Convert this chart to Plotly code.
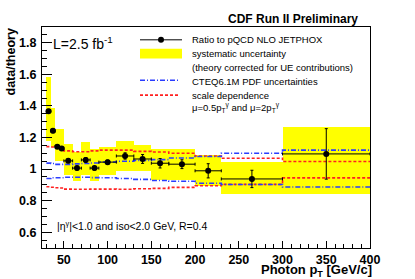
import plotly.graph_objects as go

# ---- data ----
bin_edges = [30, 35, 40, 45, 50, 60, 70, 80, 90, 110, 130, 150, 170, 200, 230, 300, 400]
ratio = [1.367, 1.242, 1.142, 1.131, 1.052, 1.006, 1.058, 1.006, 1.044, 1.083,
         1.064, 1.037, 1.031, 0.989, 0.9375, 1.096]
stat_err = [0.012, 0.012, 0.010, 0.010, 0.012, 0.012, 0.015, 0.012, 0.013, 0.020,
            0.028, 0.030, 0.028, 0.045, 0.055, 0.160]
sys_lo = [1.175, 1.142, 1.05, 1.05, 0.964, 0.923, 0.96, 0.925, 0.96, 0.985,
          0.985, 0.93, 0.93, 0.89, 0.84, 0.84]
sys_hi = [1.585, 1.385, 1.256, 1.256, 1.16, 1.11, 1.169, 1.125, 1.142, 1.18,
          1.155, 1.13, 1.125, 1.088, 1.045, 1.265]
pdf_hi = [1.0375, 1.035, 1.03, 1.03, 1.03, 1.033, 1.035, 1.038, 1.045, 1.05,
          1.055, 1.06, 1.07, 1.08, 1.10, 1.12]
pdf_lo = [0.94, 0.945, 0.945, 0.945, 0.948, 0.948, 0.948, 0.946, 0.945, 0.94,
          0.935, 0.928, 0.923, 0.91, 0.902, 0.886]
scale_hi = [1.142, 1.14, 1.14, 1.135, 1.115, 1.11, 1.11, 1.115, 1.12, 1.12,
            1.112, 1.108, 1.10, 1.083, 1.069, 1.048]
scale_lo = [0.888, 0.885, 0.882, 0.88, 0.873, 0.872, 0.872, 0.873, 0.873, 0.872,
            0.875, 0.878, 0.884, 0.894, 0.903, 0.944]

x_range = [25, 400]
y_range = [0.5, 1.9]

centers = [(a + b) / 2 for a, b in zip(bin_edges[:-1], bin_edges[1:])]
widths = [b - a for a, b in zip(bin_edges[:-1], bin_edges[1:])]
half = [w / 2 for w in widths]

FONT = "Liberation Sans, Arial, Helvetica, sans-serif"
W, H = 415, 279
ML, MR, MT, MB = 42, 45, 27, 28
PW, PH = W - ML - MR, H - MT - MB


def px(x):
    return (x - ML) / PW


def py(y):
    return (H - MB - y) / PH


fig = go.Figure()

fig.add_trace(go.Bar(
    x=centers, y=[h - l for h, l in zip(sys_hi, sys_lo)], base=sys_lo,
    width=widths, marker=dict(color="#ffff00", line=dict(width=0)),
    showlegend=False, hoverinfo="skip"))


def step(vals, color, dash):
    fig.add_trace(go.Scatter(
        x=bin_edges, y=vals + [vals[-1]], mode="lines", line_shape="hv",
        line=dict(color=color, width=1.6, dash=dash), showlegend=False,
        hoverinfo="skip"))


step(scale_hi, "#ff2020", "3px,2px")
step(scale_lo, "#ff2020", "3px,2px")
step(pdf_hi, "#2a3cff", "5px,2px,1px,2px")
step(pdf_lo, "#2a3cff", "5px,2px,1px,2px")

fig.add_trace(go.Scatter(
    x=centers, y=ratio, mode="markers",
    marker=dict(color="black", size=6),
    error_x=dict(type="data", array=half, color="black", thickness=1, width=1.5),
    error_y=dict(type="data", array=stat_err, color="black", thickness=1, width=1.5),
    showlegend=False))

shapes = []
ann = []

# legend (drawn manually to match the reference layout)
lx0, lx1, tx = 140, 182, 190
shapes.append(dict(type="line", xref="paper", yref="paper", x0=px(lx0), x1=px(lx1),
                   y0=py(40), y1=py(40), line=dict(color="black", width=1)))
shapes.append(dict(type="circle", xref="paper", yref="paper", x0=px(158), x1=px(164),
                   y0=py(43), y1=py(37), fillcolor="black", line=dict(color="black", width=0)))
shapes.append(dict(type="rect", xref="paper", yref="paper", x0=px(lx0), x1=px(lx1),
                   y0=py(59), y1=py(49), fillcolor="#ffff00", line=dict(width=0)))
shapes.append(dict(type="line", xref="paper", yref="paper", x0=px(lx0), x1=px(180),
                   y0=py(81), y1=py(81), line=dict(color="#2a3cff", width=1.6, dash="5px,2px,1px,2px")))
shapes.append(dict(type="line", xref="paper", yref="paper", x0=px(lx0), x1=px(180),
                   y0=py(96), y1=py(96), line=dict(color="#ff2020", width=1.6, dash="3px,2px")))

leg_texts = [
    ("Ratio to pQCD NLO JETPHOX", 40),
    ("systematic uncertainty", 54),
    ("(theory corrected for UE contributions)", 68),
    ("CTEQ6.1M PDF uncertainties", 82),
    ("scale dependence", 96),
    ("\u03bc=0.5p<sub>T</sub><sup>\u03b3</sup> and \u03bc=2p<sub>T</sub><sup>\u03b3</sup>", 109),
]
for t, yy in leg_texts:
    ann.append(dict(text=t, xref="paper", yref="paper", x=px(tx), y=py(yy),
                    xanchor="left", yanchor="middle", showarrow=False,
                    font=dict(family=FONT, size=9.5, color="black")))

ann.append(dict(text="L=2.5 fb<sup>-1</sup>", xref="paper", yref="paper", x=px(51), y=py(43),
                xanchor="left", yanchor="middle", showarrow=False,
                font=dict(family=FONT, size=14, color="black")))
ann.append(dict(text="|\u03b7<sup>\u03b3</sup>|<1.0 and iso<2.0 GeV, R=0.4", xref="paper", yref="paper",
                x=px(55), y=py(228), xanchor="left", yanchor="middle", showarrow=False,
                font=dict(family=FONT, size=10.5, color="black")))
ann.append(dict(text="<b>CDF Run II Preliminary</b>", xref="paper", yref="paper",
                x=px(293), y=py(19), xanchor="center", yanchor="middle", showarrow=False,
                font=dict(family=FONT, size=12, color="black")))
ann.append(dict(text="<b>Photon p<sub>T</sub> [GeV/c]</b>", xref="paper", yref="paper",
                x=px(374), y=py(263), xanchor="right", yanchor="top", showarrow=False,
                font=dict(family=FONT, size=13, color="black")))
ann.append(dict(text="<b>data/theory</b>", xref="paper", yref="paper", textangle=-90,
                x=px(10), y=1, xanchor="center", yanchor="top", showarrow=False,
                font=dict(family=FONT, size=12.5, color="black")))

fig.update_layout(
    width=W, height=H, margin=dict(l=ML, r=MR, t=MT, b=MB),
    paper_bgcolor="white", plot_bgcolor="white",
    barmode="overlay", bargap=0, showlegend=False,
    shapes=shapes, annotations=ann,
    xaxis=dict(range=x_range, dtick=50, tick0=0, ticks="inside", ticklen=7,
               tickcolor="black", showgrid=False, zeroline=False,
               showline=True, linecolor="black", linewidth=1, mirror=True,
               tickfont=dict(family=FONT, size=12.5, color="black", weight="bold"),
               minor=dict(dtick=10, tick0=0, ticks="inside", ticklen=4, tickcolor="black")),
    yaxis=dict(range=y_range, dtick=0.2, tick0=0, ticks="inside", ticklen=10,
               tickcolor="black", showgrid=False, zeroline=False,
               showline=True, linecolor="black", linewidth=1, mirror=True,
               ticklabelstandoff=2,
               tickfont=dict(family=FONT, size=12.5, color="black", weight="bold"),
               minor=dict(dtick=0.05, tick0=0, ticks="inside", ticklen=5, tickcolor="black")),
)

fig.write_html("out.html", config={"displayModeBar": False},
               post_script="document.body.style.margin='0';document.body.style.overflow='hidden';")
